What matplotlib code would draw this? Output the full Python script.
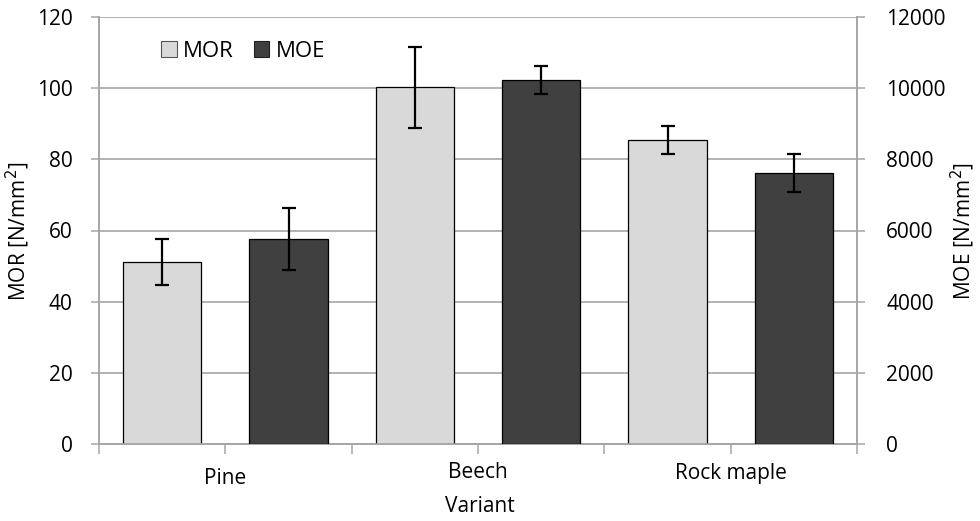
import matplotlib
matplotlib.use("Agg")
import matplotlib.pyplot as plt
from matplotlib.patches import Patch

plt.rcParams['font.family'] = ['Open Sans', 'DejaVu Sans']

species = ["Pine", "Beech", "Rock maple"]
mor = [51.2, 100.2, 85.4]
mor_err = [6.4, 11.4, 3.85]
moe = [5760, 10230, 7625]
moe_err = [870, 380, 530]

light = "#D9D9D9"
dark = "#404040"
grid_c = "#A6A6A6"
fs = 15

W, H = 980, 521
fig = plt.figure(figsize=(W / 100, H / 100), dpi=100)
ax = fig.add_axes([99 / W, (H - 444) / H, 758 / W, 427 / H])
ax2 = ax.twinx()

n = len(species)
x_mor = [2 * i for i in range(n)]
x_moe = [2 * i + 1 for i in range(n)]
bw = 0.62

ax.bar(x_mor, mor, width=bw, color=light, edgecolor="black", linewidth=0.9, zorder=3)
ax.errorbar(x_mor, mor, yerr=mor_err, fmt="none", ecolor="black",
            elinewidth=1.6, capsize=5, capthick=1.6, zorder=4)
ax2.bar(x_moe, moe, width=bw, color=dark, edgecolor="black", linewidth=0.9, zorder=3)
ax2.errorbar(x_moe, moe, yerr=moe_err, fmt="none", ecolor="black",
             elinewidth=1.6, capsize=5, capthick=1.6, zorder=4)

ax.set_xlim(-0.5, 2 * n - 0.5)
ax.set_ylim(0, 120)
ax2.set_ylim(0, 12000)
ax.set_yticks(range(0, 121, 20))
ax2.set_yticks(range(0, 12001, 2000))
ax.yaxis.grid(True, color=grid_c, linewidth=1.2, zorder=0)
ax.set_axisbelow(True)

ax.set_xticks([i - 0.5 for i in range(2 * n + 1)])
ax.set_xticklabels([])
for a in (ax, ax2):
    a.spines["top"].set_visible(False)
    for s in ("left", "right", "bottom"):
        a.spines[s].set_color(grid_c)
        a.spines[s].set_linewidth(1.2)
    a.tick_params(axis="both", direction="out", length=6, width=1.1,
                  color=grid_c, labelsize=fs, pad=13)
ax2.tick_params(axis="y", pad=15)
ax.tick_params(axis="x", length=7)

# category labels centred under each pair of bars
label_y = [478, 473, 473]
for i, name in enumerate(species):
    fig.text(ax.transData.transform((2 * i + 0.5, 0))[0] / W, 1 - label_y[i] / H,
             name, ha="center", va="center", fontsize=fs)

fig.text(480 / W, 1 - 507 / H, "Variant", ha="center", va="center", fontsize=fs)
fig.text(18 / W, 1 - 231 / H, "MOR [N/mm$^2$]", rotation=90,
         ha="center", va="center", fontsize=fs)
fig.text(963 / W, 1 - 231 / H, "MOE [N/mm$^2$]", rotation=90,
         ha="center", va="center", fontsize=fs)

handles = [Patch(facecolor=light, edgecolor="#555555", linewidth=0.8),
           Patch(facecolor=dark, edgecolor="#222222", linewidth=0.8)]
ax2.legend(handles, ["MOR", "MOE"], loc="upper left",
           bbox_to_anchor=(0.07, 0.965), ncol=2, frameon=False, fontsize=16,
           handlelength=0.7, handleheight=0.7, handletextpad=0.3,
           columnspacing=0.9, borderaxespad=0)

fig.savefig("out.png", dpi=100)
